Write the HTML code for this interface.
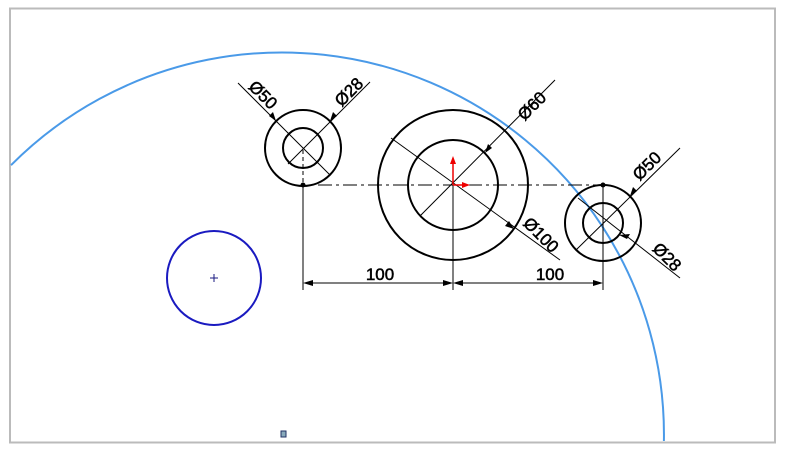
<!DOCTYPE html>
<html><head><style>html,body{margin:0;padding:0;background:#fff;width:788px;height:453px;overflow:hidden;}svg{display:block}</style></head>
<body>
<svg width="788" height="453" viewBox="0 0 788 453" xmlns="http://www.w3.org/2000/svg">
<rect x="10" y="8.5" width="765" height="434" fill="none" stroke="#bbb" stroke-width="2"/>
<path d="M11,165.2 A382 382 0 0 1 663.9,441" fill="none" stroke="#4a9ae8" stroke-width="2"/>
<circle cx="214" cy="278" r="47" fill="none" stroke="#1a1ac0" stroke-width="2"/>
<path d="M210,278h8M214,274v8" stroke="#1a1a80" stroke-width="1"/>
<rect x="281" y="431" width="5" height="6" fill="#8ab" stroke="#236" stroke-width="1"/>
<g fill="none" stroke="#000" stroke-width="2">
<circle cx="303" cy="148" r="38"/><circle cx="303" cy="148" r="20"/>
<circle cx="453" cy="185" r="75"/><circle cx="453" cy="185" r="45"/>
<circle cx="603" cy="223" r="38"/><circle cx="603" cy="223" r="20"/>
</g>
<g stroke="#000" stroke-width="1" fill="none">
<line x1="318" y1="185" x2="598" y2="185" stroke-dasharray="14,4,3,4"/>
<line x1="303" y1="150" x2="303" y2="185" stroke-dasharray="4,3"/>
<line x1="238" y1="83" x2="330" y2="175"/>
<line x1="370" y1="82" x2="288" y2="164"/>
<line x1="555" y1="80" x2="420" y2="216"/>
<line x1="391" y1="138" x2="560" y2="260"/>
<line x1="680" y1="148" x2="576" y2="250"/>
<line x1="680" y1="278" x2="578" y2="198"/>
<line x1="303" y1="185" x2="303" y2="290"/>
<line x1="453" y1="185" x2="453" y2="290"/>
<line x1="603" y1="185" x2="603" y2="290"/>
<line x1="305" y1="283" x2="451" y2="283"/>
<line x1="455" y1="283" x2="601" y2="283"/>
</g>
<g fill="#000">
<path d="M303,283 l10,-3 v6z M453,283 l-10,-3 v6z M453,283 l10,-3 v6z M603,283 l-10,-3 v6z"/>
<circle cx="303" cy="185" r="2.5"/><circle cx="603" cy="185" r="2.5"/>
<path d="M276,121 l-3,-9 l-4,4z"/>
<path d="M330,121 l3,-9 l4,4z"/>
<path d="M485,153 l3,-9 l4,4z"/>
<path d="M514,229 l-9,-3 l4,-5z"/>
<path d="M630,196 l3,-9 l4,4z"/>
<path d="M619,235 l8,4 l3,-5z"/>
</g>
<g fill="#e00" stroke="#e00">
<line x1="453" y1="185" x2="453" y2="162" stroke-width="1.5"/><path d="M453,156 l-3,8 h6z" stroke="none"/>
<line x1="453" y1="185" x2="464" y2="185" stroke-width="1.5"/><path d="M470,185 l-8,-3 v6z" stroke="none"/>
</g>
<g font-family="Liberation Sans, sans-serif" font-size="17" fill="#000" stroke="#000" stroke-width="0.5">
<text transform="translate(259,99) rotate(45)" text-anchor="middle">Ø50</text>
<text transform="translate(353,96) rotate(-45)" text-anchor="middle">Ø28</text>
<text transform="translate(536,110) rotate(-45)" text-anchor="middle">Ø60</text>
<text transform="translate(537,239) rotate(45)" text-anchor="middle">Ø100</text>
<text transform="translate(651,170) rotate(-45)" text-anchor="middle">Ø50</text>
<text transform="translate(663,261) rotate(45)" text-anchor="middle">Ø28</text>
<text x="380" y="280" text-anchor="middle">100</text>
<text x="550" y="280" text-anchor="middle">100</text>
</g>
</svg>
</body></html>
